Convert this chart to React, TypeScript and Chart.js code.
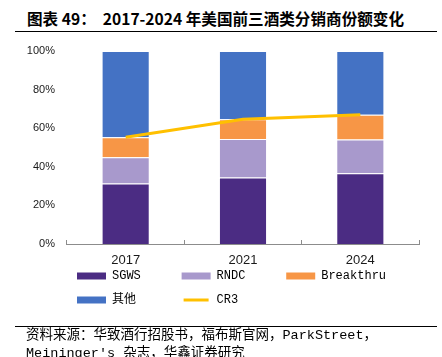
import React, { useEffect, useRef } from 'react';
import { Chart, registerables } from 'chart.js';

Chart.register(...registerables);

const categories = ['2017', '2021', '2024'];
const sgws = [31.4, 34.4, 36.6];
const rndc = [13.6, 20.0, 17.6];
const breakthru = [10.3, 10.2, 12.8];
const others = [44.7, 35.4, 33.0];
const cr3 = [55.3, 64.6, 67.0];
const yTickStep = 20;
const seriesNames = ['SGWS', 'RNDC', 'Breakthru', '其他', 'CR3'];
const titleText = '图表 49：  2017-2024 年美国前三酒类分销商份额变化';
const sourceLine1 = '资料来源：华致酒行招股书，福布斯官网，ParkStreet，';
const sourceLine2 = 'Meininger\'s 杂志，华鑫证券研究';

const COLORS = {
  sgws: '#4B2C83',
  rndc: '#A899CC',
  breakthru: '#F79646',
  others: '#4472C4',
  cr3: '#FFC000',
};

// pad legend texts so that the legend columns line up
const legendTexts = [
  seriesNames[0] + '    ',
  seriesNames[1] + '    ',
  seriesNames[2],
  seriesNames[3] + '\u3000   ',
  seriesNames[4],
];

// move the legend box to its place under the axis
const legendPlacer = {
  id: 'legendPlacer',
  afterLayout(chart: any) {
    const lg = chart.legend;
    if (!lg) return;
    const w = lg.width;
    const h = lg.height;
    lg.left = 65;
    lg.right = 65 + w;
    lg.top = 216;
    lg.bottom = 216 + h;
  },
};

export default function App() {
  const ref = useRef<HTMLCanvasElement | null>(null);

  useEffect(() => {
    if (!ref.current) return;
    const barCommon = {
      type: 'bar' as const,
      barPercentage: 0.41,
      categoryPercentage: 1.0,
      borderColor: 'rgba(255,255,255,0.55)',
      borderWidth: 1,
      order: 0,
    };
    const chart = new Chart(ref.current, {
      type: 'bar',
      data: {
        labels: categories,
        datasets: [
          { ...barCommon, label: seriesNames[0], data: sgws, backgroundColor: COLORS.sgws },
          { ...barCommon, label: seriesNames[1], data: rndc, backgroundColor: COLORS.rndc },
          { ...barCommon, label: seriesNames[2], data: breakthru, backgroundColor: COLORS.breakthru },
          { ...barCommon, label: seriesNames[3], data: others, backgroundColor: COLORS.others },
          {
            type: 'line',
            label: seriesNames[4],
            data: cr3,
            borderColor: COLORS.cr3,
            backgroundColor: COLORS.cr3,
            borderWidth: 3,
            pointRadius: 0,
            tension: 0,
            stack: 'cr3',
            order: -1,
          } as any,
        ],
      },
      plugins: [legendPlacer],
      options: {
        responsive: false,
        animation: false,
        layout: { padding: { left: 20, right: 23, top: 9, bottom: 0 } },
        plugins: {
          tooltip: { enabled: false },
          title: { display: false },
          legend: {
            position: 'bottom',
            align: 'start',
            fullSize: false,
            labels: {
              boxWidth: 29,
              boxHeight: 7,
              padding: 12,
              color: '#000',
              font: { family: '"Liberation Mono", "Noto Sans CJK SC", monospace', size: 12 },
              generateLabels: () => {
                const fills = [COLORS.sgws, COLORS.rndc, COLORS.breakthru, COLORS.others, COLORS.cr3];
                return legendTexts.map((t, i) => ({
                  text: t,
                  fillStyle: fills[i],
                  strokeStyle: i === 4 ? '#ffffff' : fills[i],
                  lineWidth: i === 4 ? 4 : 0,
                  hidden: false,
                  datasetIndex: i,
                }));
              },
            },
          },
        },
        scales: {
          x: {
            stacked: true,
            offset: true,
            grid: {
              display: true,
              drawOnChartArea: false,
              drawTicks: true,
              tickLength: -4,
              color: '#8c8c8c',
              offset: true,
            },
            border: { display: true, color: '#8c8c8c', width: 1 },
            ticks: {
              color: '#1a1a1a',
              padding: 13,
              font: { family: '"Liberation Sans", Arial, sans-serif', size: 13 },
            },
            afterFit: (s: any) => {
              s.height = 26;
            },
          },
          y: {
            stacked: true,
            min: 0,
            max: 100,
            grid: { display: false, drawTicks: true, tickLength: 12 },
            border: { display: false },
            ticks: {
              stepSize: yTickStep,
              padding: 0,
              color: '#1a1a1a',
              font: { family: '"Liberation Sans", Arial, sans-serif', size: 11 },
              callback: (v: any) => v + '%',
            },
            afterFit: (s: any) => {
              s.width = 47;
            },
          },
        },
      },
    });
    return () => chart.destroy();
  }, []);

  return (
    <div
      style={{
        position: 'absolute',
        left: 0,
        top: 0,
        width: 442,
        height: 357,
        overflow: 'hidden',
        background: '#fff',
      }}
    >
      <div
        style={{
          position: 'absolute',
          left: 27,
          top: 8,
          whiteSpace: 'pre',
          fontFamily: '"Noto Sans CJK SC", sans-serif',
          fontWeight: 'bold',
          fontSize: 15.6,
          lineHeight: '20px',
          color: '#000',
        }}
      >
        {titleText}
      </div>
      <div
        style={{
          position: 'absolute',
          left: 15,
          top: 31,
          width: 422,
          height: 0,
          borderTop: '1.5px solid #000',
        }}
      />
      <canvas
        ref={ref}
        width={442}
        height={286}
        style={{ position: 'absolute', left: 0, top: 42, width: 442, height: 286, display: 'block' }}
      />
      <div
        style={{
          position: 'absolute',
          left: 15,
          top: 326,
          width: 422,
          height: 0,
          borderTop: '1px solid #000',
        }}
      />
      <div
        style={{
          position: 'absolute',
          left: 26,
          top: 327,
          whiteSpace: 'pre',
          fontFamily: '"Liberation Mono", "Noto Sans CJK SC", monospace',
          fontSize: 13.5,
          lineHeight: '18px',
          color: '#000',
        }}
      >
        {sourceLine1}
        <br />
        {sourceLine2}
      </div>
    </div>
  );
}
